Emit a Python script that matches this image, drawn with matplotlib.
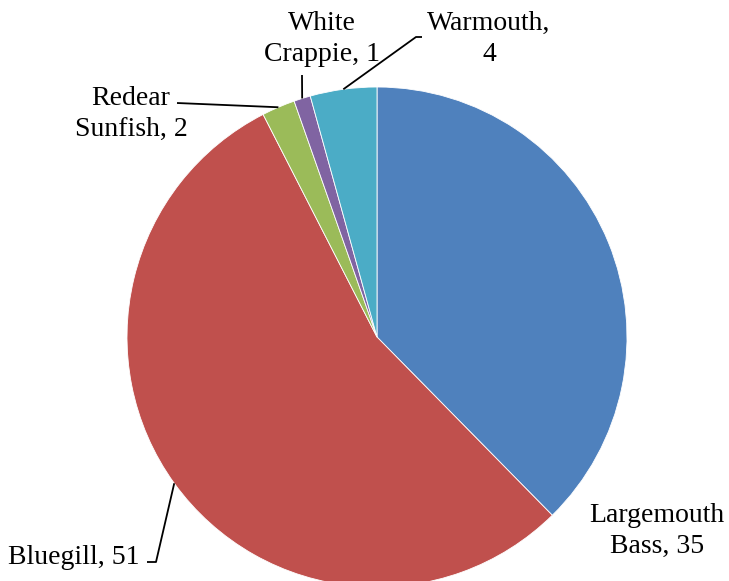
import numpy as np
import matplotlib
matplotlib.use("Agg")
import matplotlib.pyplot as plt

labels = ["Largemouth\nBass, 35", "Bluegill, 51", "Redear\nSunfish, 2", "White\nCrappie, 1", "Warmouth,\n4"]
values = [35, 51, 2, 1, 4]
colors = ["#4F81BD", "#C0504D", "#9BBB59", "#8064A2", "#4BACC6"]

W, H = 729, 581
fig = plt.figure(figsize=(W / 100, H / 100), dpi=100)
cx, cy, R = 377, 337, 250
ax = fig.add_axes([(cx - R) / W, (H - cy - R) / H, 2 * R / W, 2 * R / H])
wedges, _ = ax.pie(values, colors=colors, startangle=90, counterclock=False,
                   radius=1, wedgeprops=dict(edgecolor="white", linewidth=0.6))
ax.set_xlim(-1, 1)
ax.set_ylim(-1, 1)
ax.set_aspect("equal")
ax.axis("off")

def d(px, py):
    return ((px - cx) / R, (cy - py) / R)

font = dict(family="Liberation Serif", fontsize=20, color="#000000")

# label placements (pixel), alignment, leader elbow points
place = [
    ((657, 531), "center", None),
    ((140, 557), "right", [(156, 562), (147, 562)]),
    ((131, 114), "center", [(177, 103)]),
    ((322, 39), "center", [(302, 75)]),
    ((489, 39), "center", [(416, 37), (422, 37)]),
]

for w, lab, (pos, ha, elbow) in zip(wedges, labels, place):
    x, y = d(*pos)
    ax.text(x, y, lab, ha=ha, va="center", multialignment="center",
            linespacing=1.3, clip_on=False, **font)
    if elbow:
        ang = np.deg2rad((w.theta1 + w.theta2) / 2)
        pts = [(np.cos(ang), np.sin(ang))] + [d(*p) for p in elbow]
        xs, ys = zip(*pts)
        ax.plot(xs, ys, color="black", lw=1.3, clip_on=False, solid_capstyle="butt")

fig.savefig("out.png", dpi=100)
